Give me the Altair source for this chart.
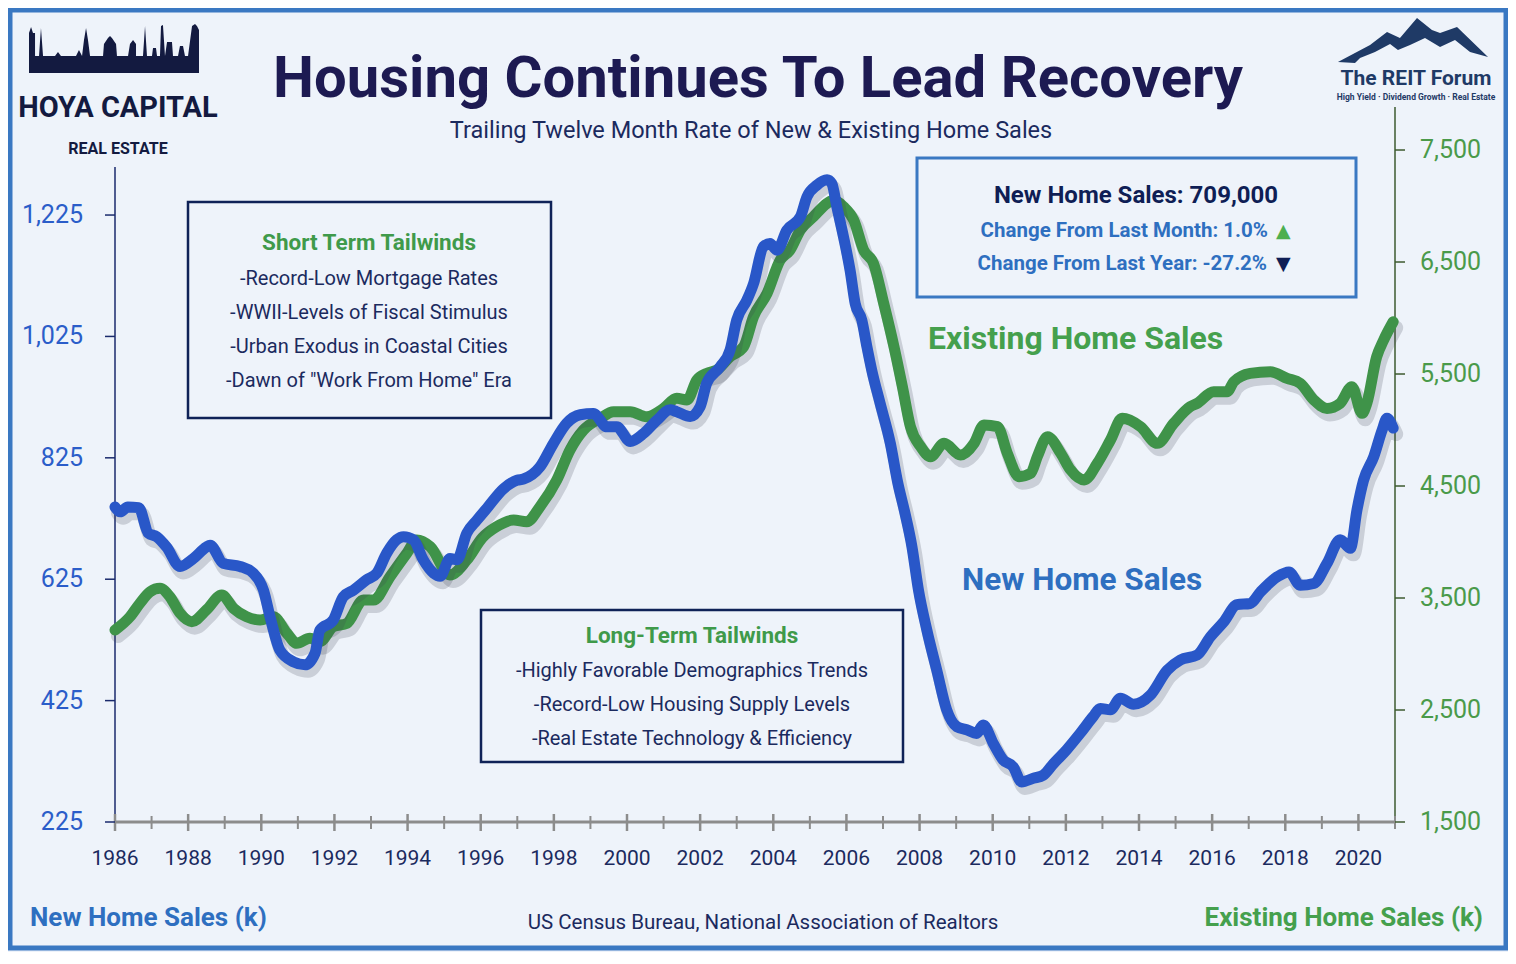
import altair as alt
import pandas as pd

# ---------------- data ----------------
new_years = [1986.00, 1986.14, 1986.35, 1986.65, 1986.91, 1987.14, 1987.41, 1987.78, 1988.14, 1988.50,
             1988.60, 1988.96, 1989.42, 1989.78, 1990.06, 1990.24, 1990.51, 1990.88, 1991.20, 1991.47,
             1991.60, 1991.97, 1992.24, 1992.52, 1992.88, 1993.16, 1993.43, 1993.70, 1993.89, 1994.16,
             1994.43, 1994.71, 1994.89, 1995.16, 1995.35, 1995.62, 1995.89, 1996.17, 1996.62, 1996.99,
             1997.17, 1997.62, 1997.99, 1998.35, 1998.72, 1999.08, 1999.45, 1999.72, 2000.09, 2000.45,
             2000.82, 2001.18, 2001.36, 2001.73, 2002.00, 2002.18, 2002.55, 2002.82, 2003.00, 2003.28,
             2003.46, 2003.73, 2003.91, 2004.10, 2004.37, 2004.74, 2004.92, 2005.19, 2005.47, 2005.60,
             2005.74, 2005.92, 2006.10, 2006.24, 2006.42, 2006.56, 2006.69, 2006.92, 2007.20, 2007.40,
             2007.60, 2007.79, 2007.97, 2008.20, 2008.47, 2008.74, 2009.02, 2009.29, 2009.56, 2009.74,
             2010.02, 2010.29, 2010.56, 2010.79, 2011.11, 2011.38, 2011.66, 2012.02, 2012.39, 2012.75,
             2012.94, 2013.22, 2013.49, 2013.85, 2014.31, 2014.77, 2015.13, 2015.59, 2015.95, 2016.32,
             2016.68, 2017.04, 2017.32, 2017.78, 2018.10, 2018.41, 2018.78, 2019.14, 2019.50, 2019.78,
             2019.96, 2020.14, 2020.42, 2020.65, 2020.78, 2020.95]
new_values = [744, 736, 744, 743, 701, 695, 678, 646, 659, 678,
              681, 651, 646, 635, 607, 563, 508, 489, 484, 503,
              541, 558, 596, 607, 624, 635, 668, 690, 695, 690,
              657, 635, 630, 659, 657, 701, 722, 742, 774, 788,
              790, 810, 849, 882, 896, 898, 876, 876, 852, 865,
              887, 904, 901, 893, 909, 948, 975, 1003, 1052, 1085,
              1112, 1173, 1178, 1167, 1200, 1222, 1255, 1274, 1283, 1277,
              1238, 1189, 1134, 1079, 1052, 1008, 970, 915, 849, 785,
              734, 679, 607, 541, 475, 410, 382, 377, 371, 385,
              354, 327, 316, 291, 297, 302, 321, 344, 371, 399,
              412, 410, 429, 419, 434, 475, 492, 500, 530, 555,
              583, 585, 604, 629, 637, 615, 618, 651, 690, 676,
              739, 788, 827, 871, 890, 874]

existing_years = [1986.00, 1986.41, 1986.68, 1986.96, 1987.23, 1987.50, 1987.78, 1988.10, 1988.50, 1988.92,
                  1989.24, 1989.60, 1989.97, 1990.33, 1990.70, 1990.97, 1991.33, 1991.60, 1991.97, 1992.34,
                  1992.79, 1993.07, 1993.52, 1993.98, 1994.25, 1994.62, 1995.16, 1995.62, 1996.05, 1996.40,
                  1996.90, 1997.26, 1997.62, 1998.08, 1998.44, 1998.81, 1999.27, 1999.63, 2000.09, 2000.54,
                  2001.00, 2001.36, 2001.64, 2001.91, 2002.18, 2002.46, 2002.82, 2003.19, 2003.46, 2003.83,
                  2004.19, 2004.46, 2004.74, 2005.10, 2005.47, 2005.65, 2005.92, 2006.20, 2006.47, 2006.74,
                  2007.02, 2007.30, 2007.53, 2007.75, 2008.03, 2008.30, 2008.67, 2009.12, 2009.49, 2009.76,
                  2010.13, 2010.40, 2010.72, 2011.04, 2011.22, 2011.50, 2011.86, 2012.13, 2012.50, 2012.86,
                  2013.22, 2013.54, 2014.04, 2014.50, 2014.95, 2015.40, 2015.59, 2016.04, 2016.41, 2016.59,
                  2017.04, 2017.59, 2018.05, 2018.41, 2018.78, 2019.14, 2019.50, 2019.82, 2020.10, 2020.23,
                  2020.50, 2020.69, 2020.95]
existing_values = [3214, 3333, 3452, 3556, 3586, 3512, 3363, 3289, 3393, 3527,
                   3408, 3333, 3304, 3333, 3185, 3095, 3140, 3110, 3244, 3274,
                   3482, 3482, 3690, 3899, 4018, 3958, 3705, 3839, 4040, 4130,
                   4196, 4181, 4315, 4554, 4821, 5000, 5104, 5164, 5164, 5119,
                   5193, 5283, 5268, 5446, 5506, 5536, 5655, 5744, 6012, 6220,
                   6518, 6607, 6786, 6905, 7024, 7054, 6994, 6875, 6607, 6488,
                   6131, 5744, 5387, 5030, 4851, 4762, 4881, 4777, 4881, 5045,
                   5030, 4792, 4583, 4613, 4762, 4940, 4792, 4643, 4554, 4702,
                   4911, 5104, 5030, 4881, 5060, 5208, 5238, 5342, 5342, 5431,
                   5506, 5521, 5461, 5417, 5268, 5193, 5238, 5387, 5149, 5238,
                   5655, 5804, 5967]

label_years = list(range(1986, 2021, 2))
minor_tick_years = list(range(1987, 2022, 2))
left_ticks = [225, 425, 625, 825, 1025, 1225]
right_ticks = [1500, 2500, 3500, 4500, 5500, 6500, 7500]

title_text = "Housing Continues To Lead Recovery"
subtitle_text = "Trailing Twelve Month Rate of New & Existing Home Sales"
short_title = "Short Term Tailwinds"
short_lines = ["-Record-Low Mortgage Rates", "-WWII-Levels of Fiscal Stimulus",
               "-Urban Exodus in Coastal Cities", "-Dawn of \"Work From Home\" Era"]
long_title = "Long-Term Tailwinds"
long_lines = ["-Highly Favorable Demographics Trends", "-Record-Low Housing Supply Levels",
              "-Real Estate Technology & Efficiency"]
info_head = "New Home Sales: 709,000"
info_month = "Change From Last Month: 1.0%"
info_year = "Change From Last Year: -27.2%"
source_text = "US Census Bureau, National Association of Realtors"

# ---------------- styling ----------------
FONT = "Roboto"
NAVY = "#1b2a5e"
TITLE_NAVY = "#1d1a52"
BLUE_LINE = "#2957c8"
GREEN_LINE = "#3f9349"
BLUE_TXT = "#2e6fc0"
GREEN_TXT = "#45a04d"
AX_NAVY = "#1a2a6c"
AX_GREEN = "#3d5a2f"
W, H = 1280, 715

one = pd.DataFrame({"k": [0]})
new_df = pd.DataFrame({"year": new_years, "sales": new_values})
ex_df = pd.DataFrame({"year": existing_years, "sales": existing_values})
left_df = pd.DataFrame({"v": left_ticks})
right_df = pd.DataFrame({"v": right_ticks})

xscale = alt.Scale(domain=[1986, 2021], nice=False, zero=False)
yl = alt.Scale(domain=[225, 1403], nice=False, zero=False)
yr = alt.Scale(domain=[1500, 7884], nice=False, zero=False)
X = alt.X("year:Q", scale=xscale, axis=None)


def line_layers(df, yscale, color):
    shadow = alt.Chart(df).mark_line(
        color="#3c4250", opacity=0.20, strokeWidth=14, xOffset=3, yOffset=6,
        interpolate="monotone", strokeCap="round", strokeJoin="round"
    ).encode(x=X, y=alt.Y("sales:Q", scale=yscale, axis=None))
    main = alt.Chart(df).mark_line(
        color=color, strokeWidth=11, interpolate="monotone", strokeCap="round", strokeJoin="round"
    ).encode(x=X, y=alt.Y("sales:Q", scale=yscale, axis=None))
    return shadow, main


def label(text, x, y, size, color, weight="normal", align="center", font=FONT):
    return alt.Chart(one).mark_text(
        text=text, font=font, fontSize=size, fontWeight=weight, color=color,
        align=align, baseline="alphabetic"
    ).encode(x=alt.value(x), y=alt.value(y))


def box(x, y, x2, y2, color, width):
    return alt.Chart(one).mark_rect(filled=False, stroke=color, strokeWidth=width).encode(
        x=alt.value(x), x2=alt.value(x2), y=alt.value(y), y2=alt.value(y2))


def shape(contour, cx, cy, half, color):
    pts = [((px - cx) / half, (py - cy) / half) for px, py in contour]
    path = "M" + " L".join(f"{a:.3f},{b:.3f}" for a, b in pts) + " Z"
    return alt.Chart(one).mark_point(shape=path, size=(2 * half) ** 2, filled=True,
                                     color=color, opacity=1, strokeWidth=0).encode(
        x=alt.value(cx - 115), y=alt.value(cy - 107))


# ---- left (new home sales) group with its own axis drawn from the scale ----
b_shadow, b_main = line_layers(new_df, yl, BLUE_LINE)
YL = alt.Y("v:Q", scale=yl, axis=None)
l_ticks = alt.Chart(left_df).mark_rule(color=AX_NAVY, strokeWidth=1.5).encode(
    y=YL, x=alt.value(-10), x2=alt.value(0))
l_labels = alt.Chart(left_df).mark_text(font=FONT, fontSize=25, color="#2b5dc9",
                                        align="right", baseline="middle").encode(
    y=YL, x=alt.value(-32), text=alt.Text("v:Q", format=","))
blue_group = alt.layer(b_shadow, b_main, l_ticks, l_labels)

# ---- right (existing home sales) group ----
g_shadow, g_main = line_layers(ex_df, yr, GREEN_LINE)
YR = alt.Y("v:Q", scale=yr, axis=None)
r_ticks = alt.Chart(right_df).mark_rule(color=AX_GREEN, strokeWidth=1.5).encode(
    y=YR, x=alt.value(W), x2=alt.value(W + 10))
r_labels = alt.Chart(right_df).mark_text(font=FONT, fontSize=25, color="#4a9a4a",
                                         align="left", baseline="middle").encode(
    y=YR, x=alt.value(W + 25), text=alt.Text("v:Q", format=","))
green_group = alt.layer(g_shadow, g_main, r_ticks, r_labels)

# ---- axis lines, x ticks and x labels ----
left_line = alt.Chart(one).mark_rule(color=AX_NAVY, strokeWidth=1.5).encode(
    x=alt.value(0), y=alt.value(60), y2=alt.value(H))
right_line = alt.Chart(one).mark_rule(color=AX_GREEN, strokeWidth=1.5).encode(
    x=alt.value(W), y=alt.value(0), y2=alt.value(H))
x_line = alt.Chart(one).mark_rule(color="#8c8c8c", strokeWidth=3).encode(
    x=alt.value(0), x2=alt.value(W), y=alt.value(H))
years_df = pd.DataFrame({"year": label_years})
maj = alt.Chart(years_df).mark_rule(color="#8c8c8c", strokeWidth=2.5).encode(
    x=X, y=alt.value(H - 8), y2=alt.value(H + 9))
mnr = alt.Chart(pd.DataFrame({"year": minor_tick_years})).mark_rule(
    color="#8c8c8c", strokeWidth=2).encode(x=X, y=alt.value(H - 6), y2=alt.value(H + 7))
x_labels = alt.Chart(years_df).mark_text(font=FONT, fontSize=21, color=NAVY,
                                         baseline="middle").encode(
    x=X, y=alt.value(H + 37), text=alt.Text("year:Q", format="d"))

# frame
frame = box(-105, -97, 1391, 841, "#3a78c2", 5)

# logos
skyline = [(29, 73), (29, 33), (31, 27), (33, 33), (35, 33), (35, 56), (39, 56), (40, 42), (41, 28),
           (42, 42), (43, 56), (55, 56), (58, 52), (61, 56), (76, 56), (79, 50), (82, 56), (84, 40),
           (86, 28), (88, 40), (90, 56), (103, 56), (104, 44), (108, 38), (110, 36), (112, 38),
           (116, 44), (117, 56), (128, 56), (130, 44), (133, 40), (136, 44), (136, 56), (143, 56),
           (145, 26), (147, 56), (152, 56), (153, 48), (156, 48), (157, 56), (160, 56), (161, 26),
           (163, 25), (165, 56), (167, 42), (172, 42), (173, 56), (178, 56), (180, 46), (183, 46),
           (185, 56), (188, 56), (192, 26), (195, 24), (197, 26), (199, 30), (199, 73)]
mountain = [(1338, 62), (1370, 45), (1387, 32), (1400, 38), (1417, 18), (1432, 30), (1440, 33),
            (1457, 27), (1488, 57), (1470, 52), (1455, 40), (1440, 47), (1425, 38), (1410, 45),
            (1398, 50), (1390, 44), (1375, 52), (1360, 58), (1355, 63)]

layers = [
    frame,
    shape(skyline, 114, 49, 85, "#131a40"),
    label("HOYA CAPITAL", 3, 10, 29, "#131a40", "bold"),
    label("REAL ESTATE", 3, 47, 16, "#131a40", "bold"),
    shape(mountain, 1413, 40, 80, "#1f3a66"),
    label("The REIT Forum", 1301, -22, 21, "#1f3a66", "bold"),
    label("High Yield \u00b7 Dividend Growth \u00b7 Real Estate", 1301, -7, 8.5, "#1f3a66", "bold"),
    label(title_text, 643, -10, 58, TITLE_NAVY, "bold"),
    label(subtitle_text, 636, 31, 23.5, NAVY),
    # short term box
    box(73, 95, 436, 311, "#0f2257", 2.5),
    label(short_title, 254, 143, 22.5, "#3f9a4a", "bold"),
] + [label(t, 254, 178 + 34 * i, 20, NAVY) for i, t in enumerate(short_lines)] + [
    # long term box
    box(366, 503, 788, 655, "#0f2257", 2.5),
    label(long_title, 577, 536, 22.5, "#3f9a4a", "bold"),
] + [label(t, 577, 570 + 34 * i, 20, NAVY) for i, t in enumerate(long_lines)] + [
    # info box
    box(802, 51, 1241, 190, "#3a78c2", 3),
    label(info_head, 1021, 96, 24, "#0f1e55", "bold"),
    label(info_month, 1153, 130, 20.5, BLUE_TXT, "bold", "right"),
    label("\u25b2", 1161, 130, 19, "#4caf50", "normal", "left", "DejaVu Sans"),
    label(info_year, 1152, 163, 20.5, BLUE_TXT, "bold", "right"),
    label("\u25bc", 1161, 163, 19, "#0f1e55", "normal", "left", "DejaVu Sans"),
    # series labels
    label("Existing Home Sales", 813, 242, 32, GREEN_TXT, "bold", "left"),
    label("New Home Sales", 847, 483, 31.5, BLUE_TXT, "bold", "left"),
    # bottom labels
    label("New Home Sales (k)", -85, 819, 26, BLUE_TXT, "bold", "left"),
    label("Existing Home Sales (k)", 1368, 819, 26, GREEN_TXT, "bold", "right"),
    label(source_text, 648, 822, 20.5, NAVY),
    # axis decorations
    left_line, right_line, x_line, maj, mnr, x_labels,
    # data with their own scale-driven axes
    green_group,
    blue_group,
]

chart = alt.layer(*layers).resolve_scale(y="independent").properties(
    width=W, height=H,
    padding={"left": 107, "top": 99, "right": 113, "bottom": 130},
    autosize=alt.AutoSizeParams(type="none"),
    background="#eef3fa",
).configure_view(stroke=None)

chart.save("out.html", embed_options={"renderer": "svg", "actions": False})
